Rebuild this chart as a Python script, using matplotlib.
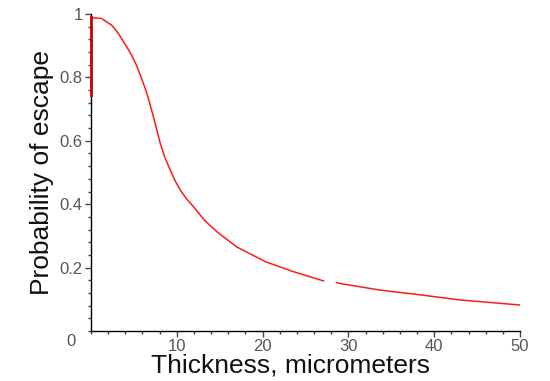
import matplotlib
matplotlib.use("Agg")
import matplotlib.pyplot as plt
import numpy as np

# escape probability vs thickness
thickness = [0.0, 0.26, 1.22, 2.39, 3.0, 3.55, 4.1, 4.72, 5.3, 5.89, 6.5, 7.05, 7.6, 8.07,
             8.6, 9.23, 9.8, 10.4, 11.1, 11.95, 13.2, 14.67, 17.0, 20.3, 23.6, 27.1, 27.8,
             28.6, 29.0, 33.7, 38.4, 43.0, 50.0]
prob = [0.990, 0.988, 0.986, 0.965, 0.946, 0.923, 0.899, 0.871, 0.838, 0.797, 0.751,
        0.698, 0.642, 0.592, 0.548, 0.508, 0.474, 0.445, 0.418, 0.392, 0.350, 0.313,
        0.265, 0.219, 0.187, 0.158, np.nan,
        0.153, 0.150, 0.129, 0.114, 0.098, 0.082]
# short vertical piece at x = 0
edge_x = [0.0, 0.0]
edge_y = [0.745, 0.990]

plt.rcParams['font.family'] = ['Liberation Sans', 'DejaVu Sans']

fig = plt.figure(figsize=(5.5, 3.81), dpi=100)
ax = fig.add_axes([91/550, 50/381, 429/550, 317/381])

ax.plot(thickness, prob, color='#ff1a1a', lw=1.1)
ax.plot(edge_x, edge_y, color='#cc0000', lw=2.0, zorder=3, clip_on=False)

ax.set_xlim(0, 50)
ax.set_ylim(0, 1)
for s in ['top', 'right']:
    ax.spines[s].set_visible(False)
for s in ['left', 'bottom']:
    ax.spines[s].set_color('black')
    ax.spines[s].set_linewidth(1.0)

ax.set_xticks([10, 20, 30, 40, 50])
ax.set_xticks(np.arange(0, 51, 2), minor=True)
ax.set_yticks([0.2, 0.4, 0.6, 0.8, 1.0])
ax.set_yticklabels(['0.2', '0.4', '0.6', '0.8', '1'])
ax.set_yticks(np.arange(0, 1.001, 0.04), minor=True)
ax.tick_params(which='major', length=4, width=1, colors='#444444',
               labelcolor='#555555', labelsize=12, pad=2)
ax.tick_params(which='minor', length=2, width=1, colors='#444444')
ax.text(-0.035, -0.01, '0', transform=ax.transAxes, ha='right', va='top',
        fontsize=12, color='#555555')

ax.set_xlabel('Thickness, micrometers', fontsize=19, labelpad=0, color='#111111')
ax.xaxis.set_label_coords(0.466, -0.07)
ax.xaxis.label.set_va('top')
ax.set_ylabel('Probability of escape', fontsize=19, labelpad=4, color='#111111')

fig.savefig('out.png', dpi=100)
